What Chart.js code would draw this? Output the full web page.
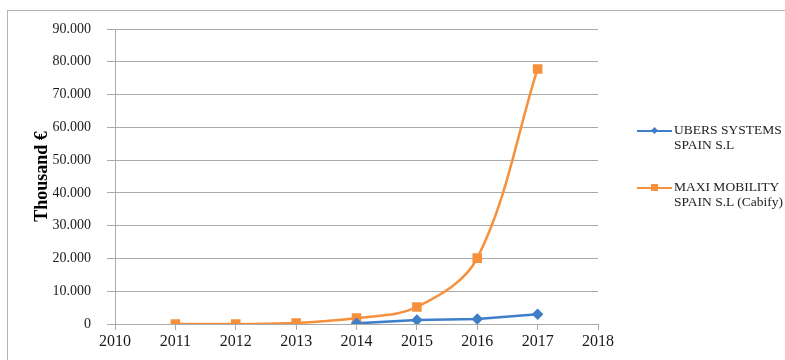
<!DOCTYPE html>
<html>
<head>
<meta charset="utf-8">
<script src="https://cdn.jsdelivr.net/npm/chart.js@4"></script>
<style>
  html, body { margin: 0; padding: 0; background: #fff; }
  #wrap { position: relative; width: 785px; height: 360px; overflow: hidden; }
  #frame { position: absolute; left: 7px; top: 10px; width: 800px; height: 400px;
           border-left: 1px solid #b4b4b4; border-top: 1px solid #b4b4b4; }
  canvas { position: absolute; left: 0; top: 0; }
  #legend { position: absolute; left: 637px; top: 122px; font-family: 'Liberation Serif', serif;
            font-size: 13.5px; color: #222; line-height: 15px; }
  .item { position: relative; padding-left: 37px; margin-bottom: 27px; }
  .line { position: absolute; left: 0; top: 8px; width: 35px; height: 2px; }
  .mark { position: absolute; left: 14px; }
</style>
</head>
<body>
<div id="wrap">
  <div id="frame"></div>
  <canvas id="chart" width="785" height="360"></canvas>
  <div id="legend"></div>
</div>
<script>
// series (thousand €)
const uberYears = [2014, 2015, 2016, 2017];
const uberValues = [200, 1200, 1500, 3000];
const cabifyYears = [2011, 2012, 2013, 2014, 2015, 2016, 2017];
const cabifyValues = [0, 0, 300, 1800, 5200, 20100, 77800];
const seriesNames = [['UBERS SYSTEMS', 'SPAIN S.L'], ['MAXI MOBILITY', 'SPAIN S.L (Cabify)']];
const yTitle = 'Thousand €';

const colors = {
    uber: '#3f7fc9',
    cabify: '#f7903c',
    grid: '#aaaaaa',
    text: '#1a1a1a'
};

const toPoints = (xs, ys) => xs.map((x, i) => ({ x: x, y: ys[i] }));
const fmt = v => v === 0 ? '0' : (v / 1000).toFixed(3);

new Chart(document.getElementById('chart').getContext('2d'), {
    type: 'line',
    data: {
        datasets: [
            {
                label: seriesNames[0].join(' '),
                data: toPoints(uberYears, uberValues),
                borderColor: colors.uber,
                backgroundColor: colors.uber,
                borderWidth: 2.5,
                pointStyle: 'rectRot',
                pointRadius: 4,
                tension: 0
            },
            {
                label: seriesNames[1].join(' '),
                data: toPoints(cabifyYears, cabifyValues),
                borderColor: colors.cabify,
                backgroundColor: colors.cabify,
                borderWidth: 2.5,
                pointStyle: 'rect',
                pointRadius: 5,
                tension: 0.35
            }
        ]
    },
    options: {
        responsive: false,
        animation: false,
        layout: { padding: { left: 30, right: 187, top: 29, bottom: 0 } },
        plugins: {
            legend: { display: false },
            tooltip: { enabled: false }
        },
        scales: {
            x: {
                type: 'linear',
                min: 2010,
                max: 2018,
                afterFit: s => { s.height = 36; },
                ticks: {
                    stepSize: 1,
                    padding: 2,
                    color: colors.text,
                    font: { family: "'Liberation Serif', serif", size: 16 },
                    callback: v => String(v)
                },
                grid: { drawOnChartArea: false, tickLength: 6, color: colors.grid },
                border: { color: colors.grid }
            },
            y: {
                min: 0,
                max: 90000,
                afterFit: s => { s.width = 85; },
                ticks: {
                    stepSize: 10000,
                    padding: 16,
                    color: colors.text,
                    font: { family: "'Liberation Serif', serif", size: 14 },
                    callback: v => fmt(v)
                },
                grid: { color: colors.grid, tickLength: 8 },
                border: { color: colors.grid },
                title: {
                    display: true,
                    text: yTitle,
                    color: '#000',
                    padding: { top: 2 },
                    font: { family: "'Liberation Serif', serif", size: 18, weight: 'bold' }
                }
            }
        }
    }
});

// legend with two-line labels
const legend = document.getElementById('legend');
[[colors.uber, 'diamond'], [colors.cabify, 'square']].forEach(([c, shape], i) => {
    const item = document.createElement('div');
    item.className = 'item';
    const line = document.createElement('div');
    line.className = 'line';
    line.style.background = c;
    const mark = document.createElement('div');
    mark.className = 'mark';
    mark.style.background = c;
    if (shape === 'diamond') {
        Object.assign(mark.style, { width: '5px', height: '5px', top: '6px', left: '15px', transform: 'rotate(45deg)' });
    } else {
        Object.assign(mark.style, { width: '7px', height: '7px', top: '5px' });
    }
    item.appendChild(line);
    item.appendChild(mark);
    seriesNames[i].forEach(t => {
        const d = document.createElement('div');
        d.textContent = t;
        item.appendChild(d);
    });
    legend.appendChild(item);
});
</script>
</body>
</html>
